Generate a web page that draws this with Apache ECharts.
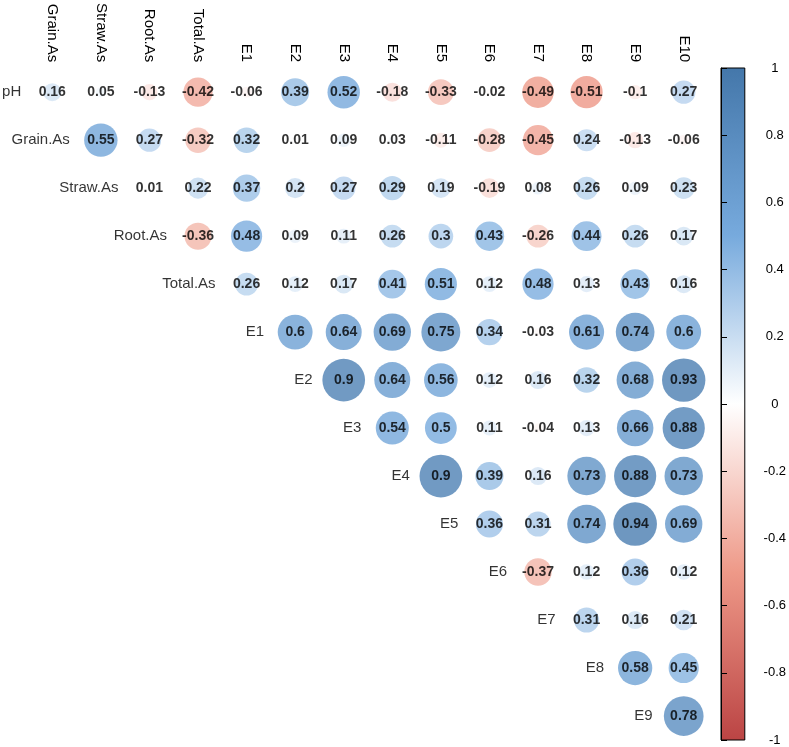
<!DOCTYPE html>
<html>
<head>
<meta charset="utf-8">
<script src="https://cdn.jsdelivr.net/npm/echarts@6/dist/echarts.min.js"></script>
<style>
html,body{margin:0;padding:0;background:#fff;}
#main{width:789px;height:747px;}
</style>
</head>
<body>
<div id="main"></div>
<script>
// Variables (rows = all but last, columns = all but first)
var rowNames = ['pH','Grain.As','Straw.As','Root.As','Total.As','E1','E2','E3','E4','E5','E6','E7','E8','E9'];
var colNames = ['Grain.As','Straw.As','Root.As','Total.As','E1','E2','E3','E4','E5','E6','E7','E8','E9','E10'];

// Upper-triangle correlation values, each row starting at the column right after the diagonal
var rowPH      = [0.16, 0.05, -0.13, -0.42, -0.06, 0.39, 0.52, -0.18, -0.33, -0.02, -0.49, -0.51, -0.1, 0.27];
var rowGrainAs = [0.55, 0.27, -0.32, 0.32, 0.01, 0.09, 0.03, -0.11, -0.28, -0.45, 0.24, -0.13, -0.06];
var rowStrawAs = [0.01, 0.22, 0.37, 0.2, 0.27, 0.29, 0.19, -0.19, 0.08, 0.26, 0.09, 0.23];
var rowRootAs  = [-0.36, 0.48, 0.09, 0.11, 0.26, 0.3, 0.43, -0.26, 0.44, 0.26, 0.17];
var rowTotalAs = [0.26, 0.12, 0.17, 0.41, 0.51, 0.12, 0.48, 0.13, 0.43, 0.16];
var rowE1      = [0.6, 0.64, 0.69, 0.75, 0.34, -0.03, 0.61, 0.74, 0.6];
var rowE2      = [0.9, 0.64, 0.56, 0.12, 0.16, 0.32, 0.68, 0.93];
var rowE3      = [0.54, 0.5, 0.11, -0.04, 0.13, 0.66, 0.88];
var rowE4      = [0.9, 0.39, 0.16, 0.73, 0.88, 0.73];
var rowE5      = [0.36, 0.31, 0.74, 0.94, 0.69];
var rowE6      = [-0.37, 0.12, 0.36, 0.12];
var rowE7      = [0.31, 0.16, 0.21];
var rowE8      = [0.58, 0.45];
var rowE9      = [0.78];

var colorbarTicks = [1, 0.8, 0.6, 0.4, 0.2, 0, -0.2, -0.4, -0.6, -0.8, -1];

var allRows = [rowPH,rowGrainAs,rowStrawAs,rowRootAs,rowTotalAs,rowE1,rowE2,rowE3,rowE4,rowE5,rowE6,rowE7,rowE8,rowE9];

// palette from -1 to 1
var palette = ['#BB4444','#EE9988','#FFFFFF','#77AADD','#4477AA'];
function hex2rgb(h){return [parseInt(h.substr(1,2),16),parseInt(h.substr(3,2),16),parseInt(h.substr(5,2),16)];}
function colorFor(v){
  var t = (v + 1) / 2 * (palette.length - 1);
  var i = Math.min(Math.floor(t), palette.length - 2);
  var f = t - i;
  var a = hex2rgb(palette[i]), b = hex2rgb(palette[i+1]);
  var c = a.map(function(x,k){return Math.round(x + (b[k]-x)*f);});
  return 'rgb(' + c.join(',') + ')';
}

var cellData = [];
allRows.forEach(function(vals, r){
  vals.forEach(function(v, k){
    var c = r + k;
    cellData.push({value:[c, r, v], itemStyle:{color: colorFor(v)}});
  });
});
var labelData = rowNames.map(function(n, r){ return {value:[r, r], name:n}; });

var chart = echarts.init(document.getElementById('main'), null, {renderer:'canvas'});
var FONT = '"Liberation Sans", Arial, sans-serif';
chart.setOption({
  backgroundColor:'#fff',
  animation:false,
  grid:[
    {left:28, top:68, width:680, height:672},
    {left:721, top:68, width:25, height:672, show:true, borderColor:'#000', borderWidth:1,
     backgroundColor: new echarts.graphic.LinearGradient(0,0,0,1,[
       {offset:0,color:palette[4]},{offset:0.25,color:palette[3]},{offset:0.5,color:palette[2]},
       {offset:0.75,color:palette[1]},{offset:1,color:palette[0]}])}
  ],
  xAxis:[
    {type:'category', gridIndex:0, data:colNames, position:'top', boundaryGap:true,
     axisLine:{show:false}, axisTick:{show:false}, splitLine:{show:false},
     axisLabel:{rotate:90, margin:6, fontSize:15, color:'#000', fontFamily:FONT, interval:0}},
    {type:'value', gridIndex:1, show:false, min:0, max:1}
  ],
  yAxis:[
    {type:'category', gridIndex:0, data:rowNames, inverse:true, boundaryGap:true, show:false},
    {type:'value', gridIndex:1, min:-1, max:1, interval:0.2, position:'right',
     axisLine:{show:true, lineStyle:{color:'#000', width:1}},
     axisTick:{show:true, length:6, lineStyle:{color:'#000'}},
     splitLine:{show:false},
     axisLabel:{margin:30, align:'center', fontSize:13, color:'#000', fontFamily:FONT,
       formatter:function(v){ var r = Math.round(v*10)/10; return colorbarTicks.indexOf(r) >= 0 ? String(r) : ''; }}}
  ],
  series:[
    {type:'scatter', xAxisIndex:0, yAxisIndex:0, data:cellData,
     symbol:'circle',
     symbolSize:function(val){ return 45 * Math.sqrt(Math.abs(val[2])); },
     label:{show:true, position:'inside', formatter:function(p){return String(p.value[2]);},
       fontSize:14, fontWeight:'bold', color:'#000', fontFamily:FONT,
       textBorderWidth:0, textBorderColor:'transparent', textShadowBlur:0},
     emphasis:{disabled:true}},
    {type:'scatter', xAxisIndex:0, yAxisIndex:0, data:labelData, symbolSize:0,
     label:{show:true, position:'left', distance:31, formatter:function(p){return p.name;},
       fontSize:15, color:'#000', fontFamily:FONT},
     emphasis:{disabled:true}}
  ]
});
</script>
</body>
</html>
